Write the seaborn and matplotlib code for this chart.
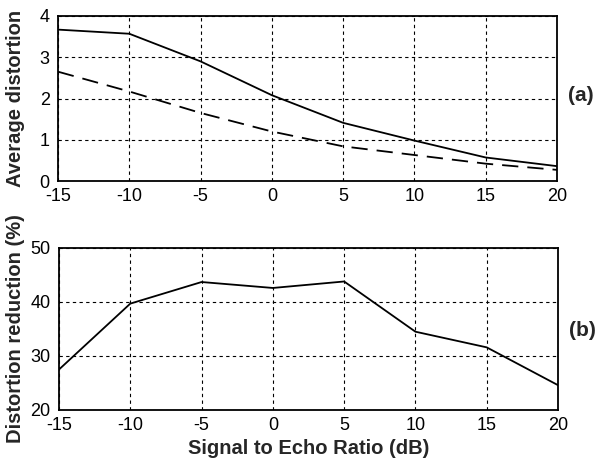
import matplotlib
matplotlib.use("Agg")
import matplotlib.pyplot as plt
import seaborn as sns
import pandas as pd

# signal to echo ratio (dB)
ser = [-15, -10, -5, 0, 5, 10, 15, 20]
# (a) average distortion
dist_before = [3.67, 3.57, 2.90, 2.08, 1.41, 0.98, 0.57, 0.36]
dist_after = [2.65, 2.17, 1.65, 1.20, 0.84, 0.63, 0.42, 0.27]
# (b) distortion reduction (%)
reduction = [27.5, 39.7, 43.7, 42.6, 43.8, 34.5, 31.6, 24.6]

sns.set_style("white")
plt.rcParams['font.family'] = ['Liberation Sans', 'DejaVu Sans']
plt.rcParams['axes.unicode_minus'] = False

df = pd.DataFrame({"ser": ser, "before": dist_before, "after": dist_after, "red": reduction})

fig = plt.figure(figsize=(5.98, 4.58), dpi=100)
ax1 = fig.add_axes([58/598, 1-181/458, 499/598, 165/458])
ax2 = fig.add_axes([59/598, 1-410/458, 499/598, 162/458])

sns.lineplot(data=df, x="ser", y="before", ax=ax1, color="black", lw=1.3)
sns.lineplot(data=df, x="ser", y="after", ax=ax1, color="black", lw=1.3)
ax1.lines[-1].set_linestyle((0, (9, 5)))
sns.lineplot(data=df, x="ser", y="red", ax=ax2, color="black", lw=1.3)

for ax in (ax1, ax2):
    ax.set_xlim(-15, 20)
    ax.set_xticks(ser)
    ax.grid(True, color="black", ls=(0, (3, 3)), lw=0.8)
    for s in ax.spines.values():
        s.set_color("black")
        s.set_linewidth(1.3)
    ax.tick_params(labelsize=13, colors="black", length=0)
    ax.tick_params(axis="x", pad=5)
    ax.tick_params(axis="y", pad=6)
    ax.set_xlabel("")

ax1.set_ylim(0, 4)
ax1.set_yticks([0, 1, 2, 3, 4])
ax1.set_ylabel("Average distortion", fontsize=14.5, fontweight="bold")
ax1.yaxis.set_label_coords(-0.066, 0.5)
ax1.text(1.022, 0.52, "(a)", transform=ax1.transAxes, fontsize=15, fontweight="bold", ha="left", va="center")

ax2.set_ylim(20, 50)
ax2.set_yticks([20, 30, 40, 50])
ax2.set_ylabel("Distortion reduction (%)", fontsize=14.5, fontweight="bold")
ax2.yaxis.set_label_coords(-0.068, 0.5)
ax2.set_xlabel("Signal to Echo Ratio (dB)", fontsize=14.5, fontweight="bold")
ax2.xaxis.set_label_coords(0.5, -0.18)
ax2.text(1.022, 0.49, "(b)", transform=ax2.transAxes, fontsize=15, fontweight="bold", ha="left", va="center")

fig.savefig("out.png", dpi=100)
